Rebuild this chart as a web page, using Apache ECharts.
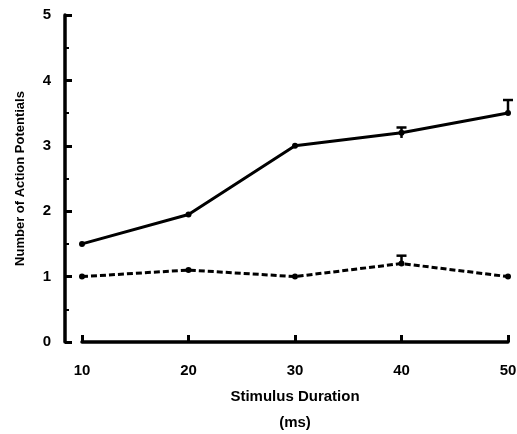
<!DOCTYPE html>
<html><head><meta charset="utf-8">
<script src="https://cdn.jsdelivr.net/npm/echarts@6/dist/echarts.min.js"></script>
<style>html,body{margin:0;background:#fff}#c{width:517px;height:434px}</style>
</head><body><div id="c"></div>
<script>
const durations = [10, 20, 30, 40, 50];
const solidValues = [1.5, 1.95, 3.0, 3.2, 3.5];
const dashedValues = [1.0, 1.1, 1.0, 1.2, 1.0];
// [x, low, high]
const solidErrors = [[40, 3.12, 3.28], [50, 3.5, 3.7]];
const dashedErrors = [[40, 1.2, 1.32]];

const chart = echarts.init(document.getElementById('c'));
const font = 'Liberation Sans';

function errSeries(data) {
    return {
        type: 'custom',
        data: data,
        renderItem: (params, api) => {
            const lo = api.coord([api.value(0), api.value(1)]);
            const hi = api.coord([api.value(0), api.value(2)]);
            const st = { stroke: '#000', lineWidth: 2.5 };
            return { type: 'group', children: [
                { type: 'line', shape: { x1: lo[0], y1: lo[1], x2: hi[0], y2: hi[1] }, style: st },
                { type: 'line', shape: { x1: hi[0] - 5, y1: hi[1], x2: hi[0] + 5, y2: hi[1] }, style: st }
            ]};
        },
        z: 3
    };
}

chart.setOption({
    animation: false,
    grid: { left: 82, right: 9, top: 15, bottom: 92, containLabel: false, outerBoundsMode: 'none' },
    xAxis: {
        type: 'value', min: 10, max: 50, interval: 10, offset: 10,
        axisLine: { lineStyle: { color: '#000', width: 3.5 } },
        axisTick: { inside: true, length: 7, lineStyle: { color: '#000', width: 3 } },
        axisLabel: { color: '#000', fontFamily: font, fontSize: 15, fontWeight: 'bold', margin: 11 },
        splitLine: { show: false },
        name: 'Stimulus Duration\n(ms)', nameLocation: 'middle', nameGap: 32,
        nameTextStyle: { color: '#000', fontFamily: font, fontSize: 15, fontWeight: 'bold', lineHeight: 26 }
    },
    yAxis: {
        type: 'value', min: 0, max: 5, interval: 1, offset: 17,
        axisLine: { show: true, lineStyle: { color: '#000', width: 3.5 } },
        axisTick: { show: true, inside: true, length: 7, lineStyle: { color: '#000', width: 3 } },
        minorTick: { show: true, splitNumber: 2, length: 4, lineStyle: { color: '#000', width: 2 } },
        axisLabel: { color: '#000', fontFamily: font, fontSize: 15, fontWeight: 'bold', margin: 14 },
        splitLine: { show: false },
        name: 'Number of Action Potentials', nameLocation: 'middle', nameGap: 38,
        nameTextStyle: { color: '#000', fontFamily: font, fontSize: 13, fontWeight: 'bold' }
    },
    series: [
        { type: 'line', data: durations.map((d, i) => [d, solidValues[i]]),
          symbol: 'circle', symbolSize: 6, itemStyle: { color: '#000' },
          lineStyle: { color: '#000', width: 3 } },
        { type: 'line', data: durations.map((d, i) => [d, dashedValues[i]]),
          symbol: 'circle', symbolSize: 6, itemStyle: { color: '#000' },
          lineStyle: { color: '#000', width: 3, type: [6, 3] } },
        errSeries(solidErrors),
        errSeries(dashedErrors)
    ]
});
</script></body></html>
